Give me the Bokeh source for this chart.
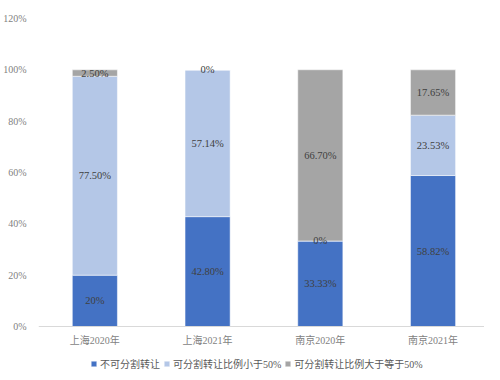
from bokeh.plotting import figure
from bokeh.models import ColumnDataSource, Range1d, FixedTicker, Legend, LegendItem, Span
from bokeh.core.properties import value
from bokeh.embed import file_html
from bokeh.resources import INLINE

categories = ["上海2020年", "上海2021年", "南京2020年", "南京2021年"]
series_names = ["不可分割转让", "可分割转让比例小于50%", "可分割转让比例大于等于50%"]
s1 = [20, 42.80, 33.33, 58.82]
s2 = [77.50, 57.14, 0, 23.53]
s3 = [2.50, 0, 66.70, 17.65]
labels1 = ["20%", "42.80%", "33.33%", "58.82%"]
labels2 = ["77.50%", "57.14%", "0%", "23.53%"]
labels3 = ["2.50%", "0%", "66.70%", "17.65%"]
y_ticks = [0, 20, 40, 60, 80, 100, 120]
colors = ["#4472C4", "#B4C7E7", "#A5A5A5"]

# layout geometry (pixels)
W, H = 484, 371
left, top = 29, 18
frame_w, frame_h = W - left, H - top
px_per_unit = 308 / 120          # 120% spans 308 px
below_px = frame_h - 308         # room under the 0% line for labels and legend
y_start = -below_px / px_per_unit

xs = [i + 0.5 for i in range(len(categories))]
src = ColumnDataSource(dict(x=xs, s1=s1, s2=s2, s3=s3))

p = figure(width=W, height=H, output_backend="svg", toolbar_location=None,
           x_range=Range1d(0, frame_w / 115), y_range=Range1d(y_start, 120),
           min_border_left=left, min_border_right=0, min_border_top=top, min_border_bottom=0)
p.outline_line_color = None
p.background_fill_color = "white"
p.border_fill_color = "white"
p.xaxis.visible = False
p.xgrid.grid_line_color = None
p.ygrid.grid_line_color = None

p.add_layout(Span(location=0, dimension="width", line_color="#D9D9D9", line_width=1))

rs = p.vbar_stack(["s1", "s2", "s3"], x="x", width=0.4, color=colors, source=src,
                  line_color="white", line_width=0.5)

label_font = value("Liberation Serif")
for vals, bottoms, labs in [
    (s1, [0] * 4, labels1),
    (s2, s1, labels2),
    (s3, [a + b for a, b in zip(s1, s2)], labels3),
]:
    ys = [b + v / 2 for b, v in zip(bottoms, vals)]
    ls = ColumnDataSource(dict(x=xs, y=ys, t=labs))
    p.text(x="x", y="y", text="t", source=ls, text_font=label_font, text_font_size="10.5px",
           text_align="center", text_baseline="middle", text_color="#404040")

# category labels under the baseline
cat_src = ColumnDataSource(dict(x=xs, y=[0] * len(xs), t=categories))
p.text(x="x", y="y", text="t", source=cat_src, y_offset=14,
       text_font=value("Liberation Serif, Noto Sans CJK SC"), text_font_size="10px",
       text_align="center", text_baseline="middle", text_color="#7F7F7F")

p.yaxis.ticker = FixedTicker(ticks=y_ticks)
p.yaxis.major_label_overrides = {t: f"{t}%" for t in y_ticks}
p.yaxis.major_tick_line_color = None
p.yaxis.minor_tick_line_color = None
p.yaxis.axis_line_color = None
p.yaxis.major_label_standoff = 6
p.yaxis.major_label_text_font = "Liberation Serif"
p.yaxis.major_label_text_font_size = "10px"
p.yaxis.major_label_text_color = "#7F7F7F"

legend = Legend(items=[LegendItem(label=n, renderers=[r]) for n, r in zip(series_names, rs)],
                orientation="horizontal", location=(52, 0),
                glyph_width=7, glyph_height=7, label_standoff=3, spacing=3,
                padding=1, margin=0, border_line_color=None, background_fill_alpha=0,
                label_text_font="Liberation Serif, Noto Sans CJK SC", label_text_font_size="10px",
                label_text_color="#595959", label_height=12)
p.add_layout(legend, "center")

open("out.html", "w").write(file_html(p, INLINE))
